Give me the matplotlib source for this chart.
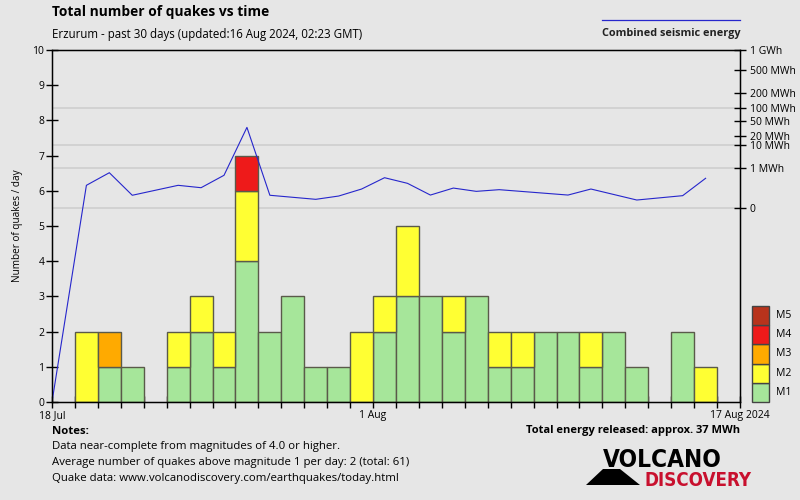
import numpy as np
import matplotlib.pyplot as plt
from matplotlib.patches import Rectangle, Polygon
from matplotlib.lines import Line2D
import matplotlib.transforms as mtransforms

plt.rcParams['font.family'] = ['Open Sans', 'DejaVu Sans']

# day 0 = 18 Jul 2024 ... day 30 = 17 Aug 2024
days = np.arange(30)
m1 = [0, 0, 1, 1, 0, 1, 2, 1, 4, 2, 3, 1, 1, 0, 2, 3, 3, 2, 3, 1, 1, 2, 2, 1, 2, 1, 0, 2, 0, 0]
m2 = [0, 2, 0, 0, 0, 1, 1, 1, 2, 0, 0, 0, 0, 2, 1, 2, 0, 1, 0, 1, 1, 0, 0, 1, 0, 0, 0, 0, 1, 0]
m3 = [0, 0, 1, 0, 0, 0, 0, 0, 0, 0, 0, 0, 0, 0, 0, 0, 0, 0, 0, 0, 0, 0, 0, 0, 0, 0, 0, 0, 0, 0]
m4 = [0, 0, 0, 0, 0, 0, 0, 0, 1, 0, 0, 0, 0, 0, 0, 0, 0, 0, 0, 0, 0, 0, 0, 0, 0, 0, 0, 0, 0, 0]
m5 = [0] * 30
mag_labels = ['M1', 'M2', 'M3', 'M4', 'M5']
mag_colors = ['#a6e69a', '#ffff33', '#ffaa00', '#ee1a1a', '#b8331c']

x_tick_pos = [0, 14, 30]
x_tick_labels = ['18 Jul', '1 Aug', '17 Aug 2024']

# combined seismic energy (MWh), plotted at day centres
E_BOTTOM = -2790.0
energy_x = [0, 1.5, 2.5, 3.5, 5.5, 6.5, 7.5, 8.5, 9.5, 11.5, 12.5, 13.5, 14.5,
            15.5, 16.5, 17.5, 18.5, 19.5, 22.5, 23.5, 25.5, 27.5, 28.5]
energy_mwh = [E_BOTTOM, 0.061, 0.556, 0.0034, 0.061, 0.035, 0.38, 34.6, 0.0034,
              0.0005, 0.0025, 0.025, 0.259, 0.093, 0.0037, 0.032, 0.013, 0.021,
              0.0037, 0.025, 0.00033, 0.0029, 0.235]
energy_ticks = [0, 1, 10, 20, 50, 100, 200, 500, 1000]
energy_tick_labels = ['0', '1 MWh', '10 MWh', '20 MWh', '50 MWh', '100 MWh',
                      '200 MWh', '500 MWh', '1 GWh']
energy_grid = [0, 1, 10, 100]

BG = '#e6e6e6'
W, H = 800, 500


def px(x, y):
    return x / W, 1 - y / H


fig = plt.figure(figsize=(8, 5), dpi=100, facecolor=BG)
ax = fig.add_axes([52 / W, 98 / H, 688 / W, 352 / H])
ax.set_facecolor(BG)

bottom = np.zeros(30)
for vals, col in zip([m1, m2, m3, m4, m5], mag_colors):
    vals = np.array(vals)
    nz = vals > 0
    ax.bar(days[nz], vals[nz], width=1, align='edge', bottom=bottom[nz], color=col,
           edgecolor='#5a5a4a', linewidth=1, zorder=2)
    bottom += vals

ax.set_xlim(0, 30)
ax.set_ylim(0, 10)
ax.set_yticks(range(11))
ax.set_xticks(range(31))
ax.set_xticklabels([x_tick_labels[x_tick_pos.index(i)] if i in x_tick_pos else ''
                    for i in range(31)])
ax.tick_params(axis='both', direction='inout', length=8, width=1, labelsize=7.5,
               colors='black', pad=1.5)
ax.set_ylabel('Number of quakes / day', fontsize=7.2, labelpad=7)
for s in ax.spines.values():
    s.set_linewidth(1)


# energy axis (fifth-root scale)
def fwd(v):
    v = np.asarray(v, dtype=float)
    return np.sign(v) * np.abs(v) ** 0.2


def inv(v):
    v = np.asarray(v, dtype=float)
    return np.sign(v) * np.abs(v) ** 5


ax2 = ax.twinx()
ax2.set_yscale('function', functions=(fwd, inv))
ax2.set_ylim(E_BOTTOM, 1000)
ax2.set_yticks(energy_ticks)
ax2.set_yticklabels(energy_tick_labels)
ax2.yaxis.set_minor_locator(plt.NullLocator())
ax2.tick_params(axis='y', direction='inout', length=8, width=1, labelsize=7.5, pad=3)
ax2.plot(energy_x, energy_mwh, color='#2626cc', linewidth=0.8)

blend = mtransforms.blended_transform_factory(ax.transAxes, ax2.transData)
for g in energy_grid:
    ax.add_line(Line2D([0, 1], [g, g], transform=blend, color='#d2d2d2',
                       linewidth=1.4, zorder=0.5))

# titles
fig.text(*px(52, 12), 'Total number of quakes vs time', fontsize=9.9,
         fontweight='bold', va='center')
fig.text(*px(52, 34), 'Erzurum - past 30 days (updated:16 Aug 2024, 02:23 GMT)',
         fontsize=8.3, va='center')
fig.add_artist(Line2D([602 / W, 740 / W], [1 - 20 / H] * 2, color='#2626cc',
                      linewidth=0.9))
fig.text(*px(740, 33), 'Combined seismic energy', fontsize=7.8, fontweight='bold',
         ha='right', va='center', color='#222222')

# magnitude legend
box_h = 19.2
for i, (lab, col) in enumerate(zip(mag_labels, mag_colors)):
    y0 = 402 - (i + 1) * box_h
    fig.add_artist(Rectangle(px(752, y0 + box_h), 17 / W, box_h / H,
                             facecolor=col, edgecolor='#444444', linewidth=1))
    fig.text(*px(776, y0 + box_h / 2), lab, fontsize=7.5, va='center')

# notes
fig.text(*px(52, 432), 'Notes:', fontsize=8.2, fontweight='bold', va='center')
notes = ['Data near-complete from magnitudes of 4.0 or higher.',
         'Average number of quakes above magnitude 1 per day: 2 (total: 61)',
         'Quake data: www.volcanodiscovery.com/earthquakes/today.html']
for i, t in enumerate(notes):
    fig.text(*px(52, 447 + 16 * i), t, fontsize=8.2, va='center')
fig.text(*px(740, 431), 'Total energy released: approx. 37 MWh', fontsize=8,
         fontweight='bold', ha='right', va='center')

# logo
fig.text(*px(603, 460), 'VOLCANO', fontsize=17.5, fontweight='bold', va='center',
         family='DejaVu Sans', fontstretch='condensed', color='black')
fig.text(*px(645, 480), 'DISCOVERY', fontsize=13.5, fontweight='bold', va='center',
         family='DejaVu Sans', fontstretch='condensed', color='#c8102e')
fig.add_artist(Polygon([px(586, 485), px(603, 469), px(620, 469), px(640, 485)],
                       closed=True, facecolor='black', edgecolor='none'))

fig.savefig('out.png', dpi=100, facecolor=BG)
